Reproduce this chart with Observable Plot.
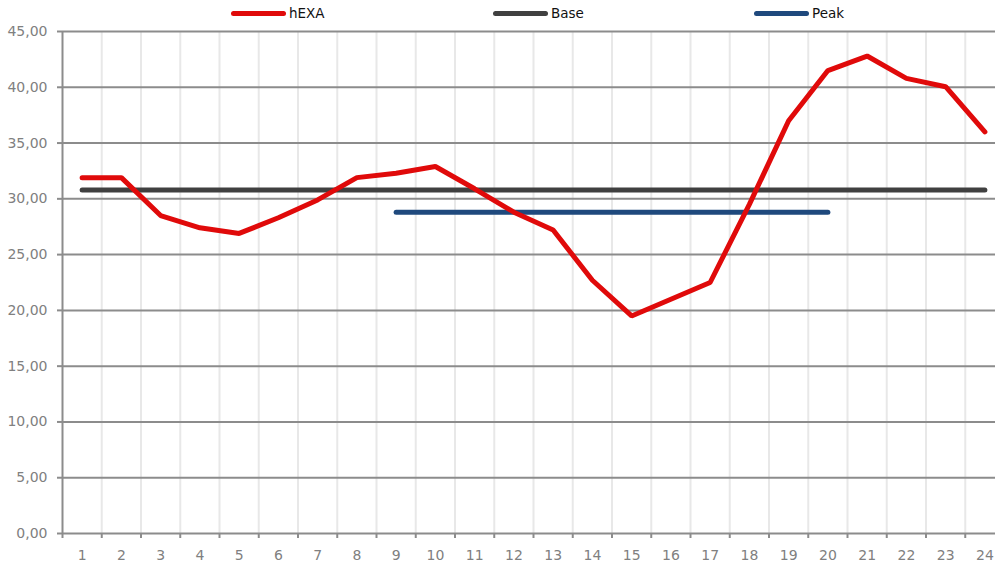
<!DOCTYPE html>
<html>
<head>
<meta charset="utf-8">
<script src="https://cdn.jsdelivr.net/npm/d3@7"></script>
<script src="https://cdn.jsdelivr.net/npm/@observablehq/plot@0.6"></script>
<style>
  html, body { margin: 0; padding: 0; background: #fff; overflow: hidden; width: 995px; height: 566px; }
  #legend { position: relative; height: 24px; font-family: "DejaVu Sans", Verdana, sans-serif; font-size: 13.5px; color: #111; }
  .item { position: absolute; top: 4px; display: flex; align-items: center; height: 18px; }
  .sw { width: 55px; height: 5px; border-radius: 3px; margin-right: 3px; }
  #chart svg { display: block; max-width: none !important; }
</style>
</head>
<body>
<div id="legend"></div>
<div id="chart"></div>
<script>
const hours = d3.range(1, 25);
const hexa = [31.9, 31.9, 28.5, 27.4, 26.9, 28.3, 29.9, 31.9, 32.3, 32.9, 30.9, 28.8,
              27.2, 22.7, 19.5, 21.0, 22.5, 29.5, 37.0, 41.5, 42.8, 40.8, 40.05, 36.0];
const baseValue = 30.8;
const peakValue = 28.8;
const peakHours = d3.range(9, 21);
const yTicks = d3.range(0, 46, 5);
const seriesNames = ["hEXA", "Base", "Peak"];
const seriesColors = ["#e00a0a", "#404040", "#1f497d"];

const hexaData = hours.map((h, i) => ({hour: h, value: hexa[i]}));
const baseData = hours.map(h => ({hour: h, value: baseValue}));
const peakData = peakHours.map(h => ({hour: h, value: peakValue}));
const bounds = d3.range(0.5, 25, 1);

// legend
const legendX = [231, 493, 754];
const legend = document.getElementById("legend");
seriesNames.forEach((n, i) => {
  const it = document.createElement("div");
  it.className = "item";
  it.style.left = legendX[i] + "px";
  it.innerHTML = `<span class="sw" style="background:${seriesColors[i]}"></span><span>${n}</span>`;
  legend.appendChild(it);
});

const fmt = d => d3.format(".2f")(d).replace(".", ",");

const chart = Plot.plot({
  width: 1006,
  height: 542,
  marginLeft: 62,
  marginRight: 2,
  marginTop: 7,
  marginBottom: 33,
  style: {fontFamily: "'DejaVu Sans', Verdana, sans-serif", fontSize: "14px", color: "#808080", background: "#fff", maxWidth: "none"},
  x: {domain: [0.5, 24.5], axis: null},
  y: {domain: [0, 45], axis: null},
  marks: [
    Plot.ruleX(bounds.slice(1), {stroke: "#e8e8e8", strokeWidth: 2}),
    Plot.ruleY(yTicks, {stroke: "#8c8c8c", strokeWidth: 2}),
    Plot.ruleX([0.5], {stroke: "#8c8c8c", strokeWidth: 2}),
    Plot.axisY({ticks: yTicks, tickSize: 5, tickPadding: 10, tickFormat: fmt, stroke: "#8c8c8c", strokeWidth: 2, fill: "#808080", label: null}),
    Plot.axisX({ticks: bounds, tickSize: 5, tickFormat: () => "", stroke: "#8c8c8c", strokeWidth: 2, label: null}),
    Plot.axisX({ticks: hours, tickSize: 0, tickPadding: 17, tickFormat: d => String(d), fill: "#808080", label: null}),
    Plot.line(baseData, {x: "hour", y: "value", stroke: seriesColors[1], strokeWidth: 5, strokeLinecap: "round"}),
    Plot.line(peakData, {x: "hour", y: "value", stroke: seriesColors[2], strokeWidth: 5, strokeLinecap: "round"}),
    Plot.line(hexaData, {x: "hour", y: "value", stroke: seriesColors[0], strokeWidth: 5, strokeLinecap: "round", strokeLinejoin: "miter"})
  ]
});
document.getElementById("chart").appendChild(chart);
</script>
</body>
</html>
